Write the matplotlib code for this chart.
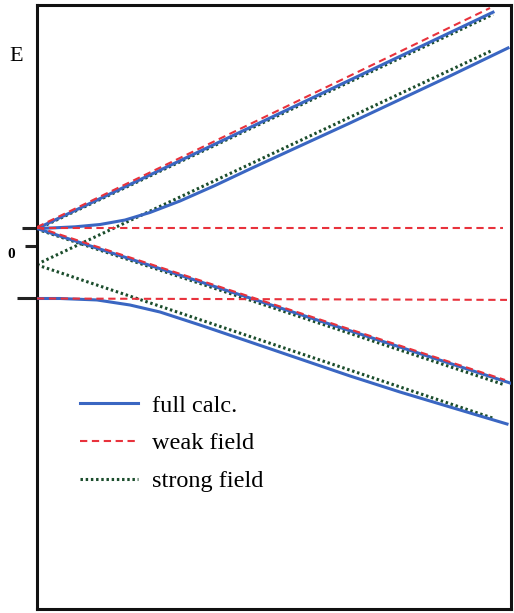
import matplotlib
matplotlib.use("Agg")
import matplotlib.pyplot as plt
from matplotlib.transforms import ScaledTranslation

plt.rcParams["font.family"] = ["Liberation Serif", "DejaVu Serif"]

# field axis (arbitrary units), energy (arbitrary units, A = 1)
# full calculation
full_up_x = [0, 4.56]
full_up_E = [0.25, 3.34]
full_mid_x = [0, 0.18, 0.38, 0.63, 0.88, 1.13, 1.43, 1.78, 2.13, 2.63, 3.13, 3.63, 4.13, 4.71]
full_mid_E = [0.25, 0.26, 0.274, 0.307, 0.371, 0.479, 0.643, 0.864, 1.10, 1.429, 1.757, 2.093, 2.429, 2.829]
full_down_x = [0, 4.73]
full_down_E = [0.25, -1.957]
full_low_x = [0, 0.23, 0.60, 0.93, 1.23, 1.63, 2.13, 2.63, 3.13, 3.63, 4.13, 4.70]
full_low_E = [-0.75, -0.75, -0.771, -0.843, -0.943, -1.129, -1.371, -1.614, -1.857, -2.086, -2.30, -2.543]

# weak field approximation
weak_up_x = [0, 4.53]
weak_up_E = [0.27, 3.40]
weak_flat_x = [0, 4.66]
weak_flat_E = [0.25, 0.25]
weak_down_x = [0, 4.68]
weak_down_E = [0.27, -1.914]
weak_low_x = [0, 4.70]
weak_low_E = [-0.75, -0.77]

# strong field approximation
strong_up_x = [0, 4.56]
strong_up_E = [0.24, 3.31]
strong_up2_x = [0, 4.56]
strong_up2_E = [-0.26, 2.80]
strong_down_x = [0, 4.68]
strong_down_E = [0.24, -1.986]
strong_down2_x = [0, 4.56]
strong_down2_E = [-0.27, -2.46]

tick_E = [0.25, 0, -0.75]
tick_labels = ["", "0", ""]

blue = "#3a66c2"
red = "#e8323c"
green = "#1b4d2c"

fig = plt.figure(figsize=(5.14, 6.13), dpi=100)
ax = fig.add_axes([37 / 514, 4 / 613, 474 / 514, 604 / 613])

dot = (0, (0.8, 0.9))
dash = (0, (3.5, 2.2))

ax.plot(strong_up_x, strong_up_E, color=green, lw=2.2, ls=dot, zorder=2)
ax.plot(strong_up2_x, strong_up2_E, color=green, lw=2.2, ls=dot, zorder=2)
ax.plot(strong_down_x, strong_down_E, color=green, lw=2.2, ls=dot, zorder=2)
ax.plot(strong_down2_x, strong_down2_E, color=green, lw=2.2, ls=dot, zorder=2,
        label="strong field")

ax.plot(full_up_x, full_up_E, color=blue, lw=2.2, zorder=3)
ax.plot(full_mid_x, full_mid_E, color=blue, lw=2.2, zorder=3)
ax.plot(full_down_x, full_down_E, color=blue, lw=2.2, zorder=3)
ax.plot(full_low_x, full_low_E, color=blue, lw=2.2, zorder=3, label="full calc.")

ax.plot(weak_up_x, weak_up_E, color=red, lw=1.5, ls=dash, zorder=4)
ax.plot(weak_flat_x, weak_flat_E, color=red, lw=1.5, ls=dash, zorder=4)
ax.plot(weak_down_x, weak_down_E, color=red, lw=1.5, ls=dash, zorder=4)
ax.plot(weak_low_x, weak_low_E, color=red, lw=1.5, ls=dash, zorder=4, label="weak field")

ax.set_xlim(0, 4.74)
ax.set_ylim(-5.186, 3.443)

for s in ax.spines.values():
    s.set_linewidth(2.2)
    s.set_color("#111111")

ax.set_xticks([])
ax.set_yticks(tick_E)
ax.set_yticklabels(tick_labels, fontsize=11, fontweight="bold")
ax.tick_params(axis="y", direction="out", length=8.6, width=2.2, pad=7.5, color="#222222")
ticks = ax.yaxis.get_major_ticks()
ticks[0].tick1line.set_markersize(10.8)
ticks[2].tick1line.set_markersize(14.4)
for lab in ax.get_yticklabels():
    lab.set_transform(lab.get_transform() + ScaledTranslation(0, -0.07, fig.dpi_scale_trans))

ax.set_ylabel("E", rotation=0, fontsize=16, va="center", ha="center")
ax.yaxis.set_label_coords(-0.044, 0.914)

handles, labels = ax.get_legend_handles_labels()
order = [1, 2, 0]
ax.legend([handles[i] for i in order], [labels[i] for i in order],
          loc="upper left", bbox_to_anchor=(0.091, 0.355), frameon=False,
          fontsize=17.5, handlelength=2.4, handletextpad=0.55, labelspacing=0.65,
          borderpad=0, borderaxespad=0)

fig.savefig("out.png", dpi=100)
